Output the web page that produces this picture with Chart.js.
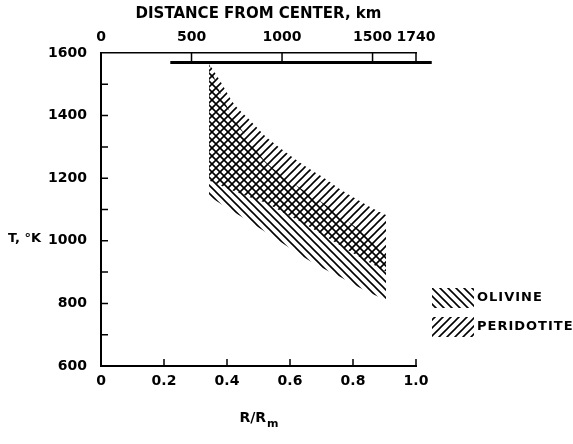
<!DOCTYPE html>
<html>
<head>
<meta charset="utf-8">
<script src="https://cdn.jsdelivr.net/npm/chart.js@4"></script>
<style>
  html, body { margin: 0; padding: 0; background: #fff; }
</style>
</head>
<body>
<canvas id="graphique" width="573" height="444"></canvas>
<script>
// Données (T en K, rayon en R/Rm)
const rayonTicks = [0, 0.2, 0.4, 0.6, 0.8, 1.0];
const rayonLabels = ['0', '0.2', '0.4', '0.6', '0.8', '1.0'];
const tempTicks = [600, 800, 1000, 1200, 1400, 1600];
const tempMinorTicks = [700, 900, 1100, 1300, 1500];
const distanceTicks = [0, 500, 1000, 1500, 1740];
const rayonLune = 1740;

// bandes hachurées : bord haut / bord bas
const bandeRayon     = [0.343, 0.38, 0.42, 0.47, 0.52, 0.58, 0.64, 0.70, 0.76, 0.82, 0.86, 0.905];
const peridotiteHaut = [1566, 1508, 1440, 1388, 1336, 1288, 1244, 1206, 1164, 1128, 1105, 1082];
const peridotiteBas  = [1193, 1177, 1160, 1140, 1122, 1090, 1058, 1022, 985, 949, 927, 902];
const olivineHaut    = [1566, 1470, 1395, 1322, 1255, 1206, 1163, 1124, 1080, 1035, 1000, 960];
const olivineBas     = [1143, 1118, 1093, 1062, 1030, 990, 950, 915, 884, 851, 831, 811];

// trait horizontal épais
const ligneRayon = [0.22, 1.05];
const ligneTemp = [1570, 1570];

const legendeNoms = ['OLIVINE', 'PERIDOTITE'];

const police = '"DejaVu Sans", sans-serif';

/**
 * Crée un motif de hachures ('/' ou '\')
 */
function creerHachures(ctx, sens) {
  const c = document.createElement('canvas');
  c.width = 8;
  c.height = 8;
  const g = c.getContext('2d');
  g.strokeStyle = '#000';
  g.lineWidth = 1.6;
  g.beginPath();
  if (sens === '/') {
    g.moveTo(0, 8); g.lineTo(8, 0);
    g.moveTo(-2, 2); g.lineTo(2, -2);
    g.moveTo(6, 10); g.lineTo(10, 6);
  } else {
    g.moveTo(0, 0); g.lineTo(8, 8);
    g.moveTo(-2, 6); g.lineTo(2, 10);
    g.moveTo(6, -2); g.lineTo(10, 2);
  }
  g.stroke();
  return ctx.createPattern(c, 'repeat');
}

const canvas = document.getElementById('graphique');
const ctx = canvas.getContext('2d');
const hachOlivine = creerHachures(ctx, '\\');
const hachPeridotite = creerHachures(ctx, '/');

const points = (xs, ys) => xs.map((x, i) => ({ x: x, y: ys[i] }));

// Ticks internes, titres et légende dessinés à la main
const habillage = {
  id: 'habillage',
  afterDraw(chart) {
    const { ctx, chartArea } = chart;
    const sx = chart.scales.x;
    const sy = chart.scales.y;
    const sk = chart.scales.x2;
    ctx.save();
    ctx.strokeStyle = '#000';
    ctx.lineWidth = 1.5;
    ctx.beginPath();
    rayonTicks.slice(1).forEach(v => {
      const px = sx.getPixelForValue(v);
      ctx.moveTo(px, chartArea.bottom);
      ctx.lineTo(px, chartArea.bottom - 7);
    });
    tempTicks.slice(1, -1).concat(tempMinorTicks).forEach(v => {
      const py = sy.getPixelForValue(v);
      ctx.moveTo(chartArea.left, py);
      ctx.lineTo(chartArea.left + 7, py);
    });
    distanceTicks.slice(1).forEach(v => {
      const px = sk.getPixelForValue(v);
      ctx.moveTo(px, chartArea.top);
      ctx.lineTo(px, chartArea.top + 8);
    });
    ctx.stroke();

    ctx.fillStyle = '#000';
    ctx.font = 'bold 13px ' + police;
    ctx.textBaseline = 'middle';
    ctx.textAlign = 'left';
    ctx.fillText('T, °K', 8, sy.getPixelForValue(1000) - 2);

    // R/Rm avec indice
    const cx = (chartArea.left + chartArea.right) / 2;
    const yTitre = 418;
    const base = 'R/R';
    ctx.font = 'bold 14px ' + police;
    const wBase = ctx.measureText(base).width;
    ctx.font = 'bold 11px ' + police;
    const wInd = ctx.measureText('m').width;
    const x0 = cx - (wBase + wInd) / 2;
    ctx.font = 'bold 14px ' + police;
    ctx.fillText(base, x0, yTitre);
    ctx.font = 'bold 11px ' + police;
    ctx.fillText('m', x0 + wBase + 1, yTitre + 6);

    // légende
    const motifs = [hachOlivine, hachPeridotite];
    ctx.font = 'bold 13px ' + police;
    ctx.letterSpacing = '1px';
    legendeNoms.forEach((nom, i) => {
      const ly = 288 + i * 29;
      ctx.fillStyle = motifs[i];
      ctx.fillRect(chartArea.right + 16, ly, 42, 20);
      ctx.fillStyle = '#000';
      ctx.fillText(nom, chartArea.right + 61, ly + 10);
    });
    ctx.restore();
  }
};

new Chart(ctx, {
  type: 'line',
  data: {
    datasets: [
      {
        label: 'peridotite haut',
        data: points(bandeRayon, peridotiteHaut),
        backgroundColor: hachPeridotite,
        borderWidth: 0,
        pointRadius: 0,
        cubicInterpolationMode: 'monotone',
        fill: '+1'
      },
      {
        label: 'peridotite bas',
        data: points(bandeRayon, peridotiteBas),
        borderWidth: 0,
        pointRadius: 0,
        cubicInterpolationMode: 'monotone',
        fill: false
      },
      {
        label: 'olivine haut',
        data: points(bandeRayon, olivineHaut),
        backgroundColor: hachOlivine,
        borderWidth: 0,
        pointRadius: 0,
        cubicInterpolationMode: 'monotone',
        fill: '+1'
      },
      {
        label: 'olivine bas',
        data: points(bandeRayon, olivineBas),
        borderWidth: 0,
        pointRadius: 0,
        cubicInterpolationMode: 'monotone',
        fill: false
      },
      {
        label: 'ligne',
        data: points(ligneRayon, ligneTemp),
        borderColor: '#000',
        borderWidth: 3,
        pointRadius: 0,
        fill: false,
        clip: false
      }
    ]
  },
  options: {
    responsive: false,
    animation: false,
    events: [],
    layout: { padding: { left: 0, right: 157, top: 0, bottom: 0 } },
    plugins: {
      legend: { display: false },
      tooltip: { enabled: false }
    },
    scales: {
      x: {
        type: 'linear',
        position: 'bottom',
        min: 0,
        max: 1,
        afterBuildTicks: scale => { scale.ticks = rayonTicks.map(v => ({ value: v })); },
        afterFit: scale => { scale.height = 78; },
        grid: { drawOnChartArea: false, drawTicks: false },
        border: { display: true, color: '#000', width: 2 },
        ticks: {
          color: '#000',
          padding: 7,
          maxRotation: 0,
          font: { family: police, size: 14, weight: 'bold' },
          callback: (v) => rayonLabels[rayonTicks.indexOf(v)]
        }
      },
      x2: {
        type: 'linear',
        position: 'top',
        min: 0,
        max: rayonLune,
        afterBuildTicks: scale => { scale.ticks = distanceTicks.map(v => ({ value: v })); },
        afterFit: scale => { scale.height = 53; },
        grid: { drawOnChartArea: false, drawTicks: false },
        border: { display: true, color: '#000', width: 1.5 },
        ticks: {
          color: '#000',
          padding: 7,
          maxRotation: 0,
          autoSkip: false,
          font: { family: police, size: 14, weight: 'bold' },
          callback: (v) => String(v)
        },
        title: {
          display: true,
          text: 'DISTANCE FROM CENTER, km',
          color: '#000',
          padding: { top: 5 },
          font: { family: police, size: 15, weight: 'bold' }
        }
      },
      y: {
        type: 'linear',
        min: 600,
        max: 1600,
        afterBuildTicks: scale => { scale.ticks = tempTicks.map(v => ({ value: v })); },
        afterFit: scale => { scale.width = 101; },
        grid: { drawOnChartArea: false, drawTicks: false },
        border: { display: true, color: '#000', width: 2 },
        ticks: {
          color: '#000',
          padding: 14,
          font: { family: police, size: 14, weight: 'bold' },
          callback: (v) => String(v)
        }
      }
    }
  },
  plugins: [habillage]
});
</script>
</body>
</html>
